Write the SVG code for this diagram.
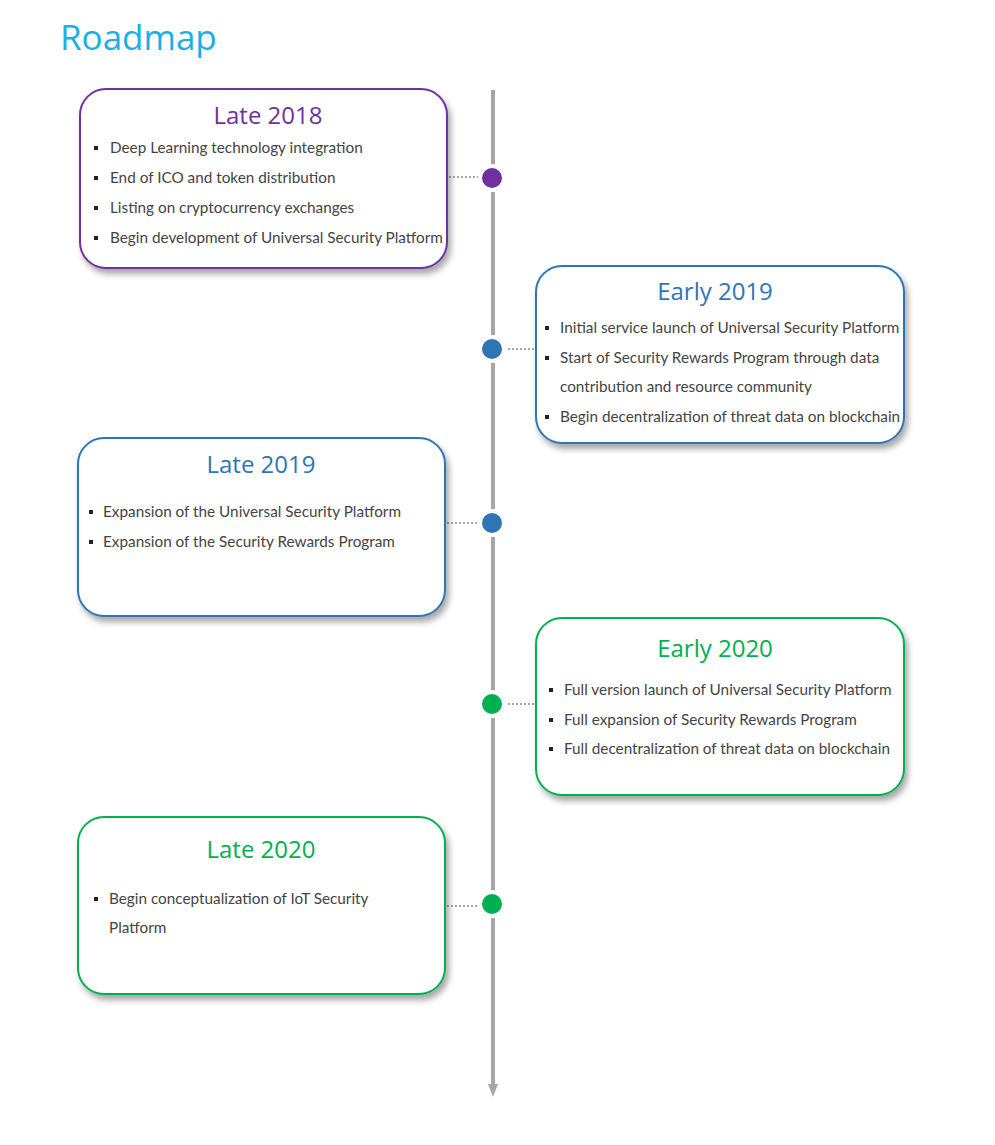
<svg xmlns="http://www.w3.org/2000/svg" width="995" height="1145" viewBox="0 0 995 1145">
<style>
.title{font-family:"Open Sans","Liberation Sans",sans-serif;font-size:35px;fill:#1AAFE6}
.head{font-family:"Open Sans","Liberation Sans",sans-serif;font-size:24px;text-anchor:middle}
.item{font-family:Lato,"Liberation Sans",sans-serif;font-size:15.3px;fill:#444}
.bul{fill:#222}
.box{fill:#fff;stroke-width:2}
.conn{stroke:#A6A6A6;stroke-width:2;stroke-dasharray:2 2;fill:none}
.dot{stroke:#fff;stroke-width:4}
</style>
<defs>
<filter id="sh" x="-10%" y="-10%" width="125%" height="130%">
<feDropShadow dx="3" dy="5" stdDeviation="3" flood-color="#000" flood-opacity="0.35"/>
</filter>
</defs>
<rect width="995" height="1145" fill="#fff"/>
<text class="title" x="60" y="50">Roadmap</text>

<g id="connectors">
<line x1="493" y1="90" x2="493" y2="1088" stroke="#A6A6A6" stroke-width="4"/>
<path d="M488,1084 L498,1084 L493,1097 Z" fill="#A6A6A6"/>
<line class="conn" x1="449" y1="177" x2="481" y2="177"/>
<line class="conn" x1="504" y1="349" x2="535" y2="349"/>
<line class="conn" x1="447" y1="523" x2="481" y2="523"/>
<line class="conn" x1="504" y1="704" x2="535" y2="704"/>
<line class="conn" x1="447" y1="906" x2="481" y2="906"/>
</g>

<g id="dots">
<circle class="dot" cx="492" cy="178" r="12" fill="#7030A0"/>
<circle class="dot" cx="492" cy="349" r="12" fill="#2E75B6"/>
<circle class="dot" cx="492" cy="523" r="12" fill="#2E75B6"/>
<circle class="dot" cx="492" cy="704" r="12" fill="#00B050"/>
<circle class="dot" cx="492" cy="904" r="12" fill="#00B050"/>
</g>

<g id="late2018">
<rect class="box" x="80" y="89" width="367" height="179" rx="26" stroke="#7030A0" filter="url(#sh)"/>
<text class="head" x="268" y="124" fill="#7030A0">Late 2018</text>
<rect class="bul" x="94" y="146" width="4" height="4"/>
<text class="item" x="110" y="153">Deep Learning technology integration</text>
<rect class="bul" x="94" y="176" width="4" height="4"/>
<text class="item" x="110" y="183">End of ICO and token distribution</text>
<rect class="bul" x="94" y="206" width="4" height="4"/>
<text class="item" x="110" y="213">Listing on cryptocurrency exchanges</text>
<rect class="bul" x="94" y="236" width="4" height="4"/>
<text class="item" x="110" y="243">Begin development of Universal Security Platform</text>
</g>

<g id="early2019">
<rect class="box" x="536" y="266" width="368" height="177" rx="26" stroke="#2E75B6" filter="url(#sh)"/>
<text class="head" x="715" y="300" fill="#2E75B6">Early 2019</text>
<rect class="bul" x="545" y="326" width="4" height="4"/>
<text class="item" x="560" y="333">Initial service launch of Universal Security Platform</text>
<rect class="bul" x="545" y="356" width="4" height="4"/>
<text class="item" x="560" y="363">Start of Security Rewards Program through data</text>
<text class="item" x="560" y="392">contribution and resource community</text>
<rect class="bul" x="545" y="415" width="4" height="4"/>
<text class="item" x="560" y="422">Begin decentralization of threat data on blockchain</text>
</g>

<g id="late2019">
<rect class="box" x="78" y="438" width="367" height="178" rx="26" stroke="#2E75B6" filter="url(#sh)"/>
<text class="head" x="261" y="473" fill="#2E75B6">Late 2019</text>
<rect class="bul" x="89" y="510" width="4" height="4"/>
<text class="item" x="103" y="517">Expansion of the Universal Security Platform</text>
<rect class="bul" x="89" y="540" width="4" height="4"/>
<text class="item" x="103" y="547">Expansion of the Security Rewards Program</text>
</g>

<g id="early2020">
<rect class="box" x="536" y="618" width="368" height="177" rx="26" stroke="#00B050" filter="url(#sh)"/>
<text class="head" x="715" y="657" fill="#00B050">Early 2020</text>
<rect class="bul" x="549" y="688" width="4" height="4"/>
<text class="item" x="564" y="695">Full version launch of Universal Security Platform</text>
<rect class="bul" x="549" y="718" width="4" height="4"/>
<text class="item" x="564" y="725">Full expansion of Security Rewards Program</text>
<rect class="bul" x="549" y="747" width="4" height="4"/>
<text class="item" x="564" y="754">Full decentralization of threat data on blockchain</text>
</g>

<g id="late2020">
<rect class="box" x="78" y="817" width="367" height="177" rx="26" stroke="#00B050" filter="url(#sh)"/>
<text class="head" x="261" y="858" fill="#00B050">Late 2020</text>
<rect class="bul" x="94" y="897" width="4" height="4"/>
<text class="item" x="109" y="904">Begin conceptualization of IoT Security</text>
<text class="item" x="109" y="933">Platform</text>
</g>
</svg>
